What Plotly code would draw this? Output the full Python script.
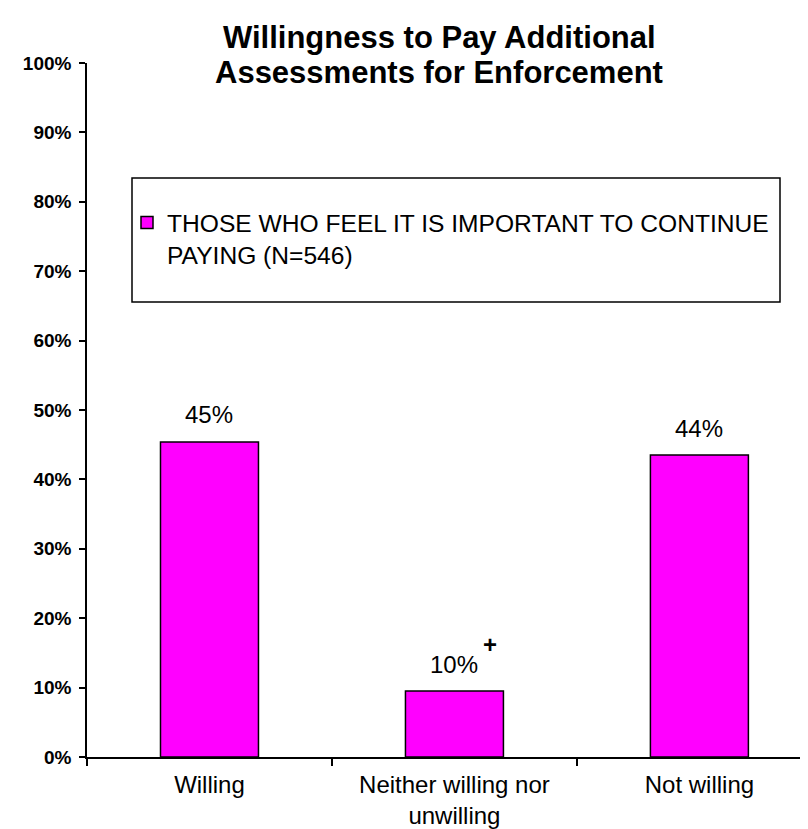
import plotly.graph_objects as go

categories = ["Willing", "Neither willing nor<br>unwilling", "Not willing"]
values = [0.454, 0.095, 0.435]
value_labels = ["45%", "10%", "44%"]
series_name = "THOSE WHO FEEL IT IS IMPORTANT TO CONTINUE<br>PAYING (N=546)"
y_ticks = [i / 10 for i in range(11)]
y_tick_labels = [f"{i*10}%" for i in range(11)]
title_lines = ["Willingness to Pay Additional", "Assessments for Enforcement"]

W, H = 808, 829
ML, MR, MT, MB = 79, 0, 55, 80
pw, ph = W - ML - MR, H - MT - MB

def px_x(px):
    return (px - ML) / pw

def px_y(py):
    return (H - MB - py) / ph

fig = go.Figure()
fig.add_trace(go.Bar(
    x=categories, y=values, name=series_name,
    marker=dict(color="#FF00FF", line=dict(color="black", width=1.5)),
    showlegend=True,
))

for c, v, t in zip(categories, values, value_labels):
    fig.add_annotation(x=c, y=v, text=t, showarrow=False, yanchor="middle",
                       yshift=27, font=dict(family="Arial", size=24, color="black"))

fig.add_annotation(x=categories[1], y=values[1], text="<b>+</b>", showarrow=False,
                   xshift=36, yshift=47, font=dict(family="Arial", size=24, color="black"))

for line, py in zip(title_lines, [30, 64]):
    fig.add_annotation(xref="paper", yref="paper", x=px_x(431), y=px_y(py),
                       text=f"<b>{line}</b>", showarrow=False, xanchor="center",
                       yanchor="middle",
                       font=dict(family="Arial", size=31, color="black"))

fig.add_shape(type="rect", xref="paper", yref="paper",
              x0=px_x(124), x1=px_x(772), y0=px_y(294), y1=px_y(170),
              line=dict(color="black", width=1.5), fillcolor="rgba(0,0,0,0)")

fig.update_layout(
    width=W, height=H,
    margin=dict(l=ML, r=MR, t=MT, b=MB, pad=0),
    paper_bgcolor="white", plot_bgcolor="white",
    bargap=0.6,
    font=dict(family="Arial", color="black"),
    showlegend=True,
    legend=dict(x=px_x(119), y=px_y(192), xanchor="left", yanchor="top",
                font=dict(family="Arial", size=24.6, color="black"),
                bgcolor="rgba(0,0,0,0)", borderwidth=0, valign="top"),
    xaxis=dict(type="category", categoryorder="array", categoryarray=categories,
               range=[-0.5, 2.476], showline=True, linecolor="black", linewidth=1.5,
               ticks="outside", tickson="boundaries", ticklen=7, tickcolor="black",
               tickwidth=1.5, tickfont=dict(family="Arial", size=24, color="black"),
               ticklabelstandoff=5, showgrid=False, zeroline=False),
    yaxis=dict(range=[0, 1], tickvals=y_ticks, ticktext=y_tick_labels,
               showline=True, linecolor="black", linewidth=1.5,
               ticks="outside", ticklen=6, tickcolor="black", tickwidth=1.5,
               tickfont=dict(family="Arial", size=19, color="black", weight="bold"),
               ticklabelstandoff=4, showgrid=False, zeroline=False),
)

fig.write_html("out.html")
